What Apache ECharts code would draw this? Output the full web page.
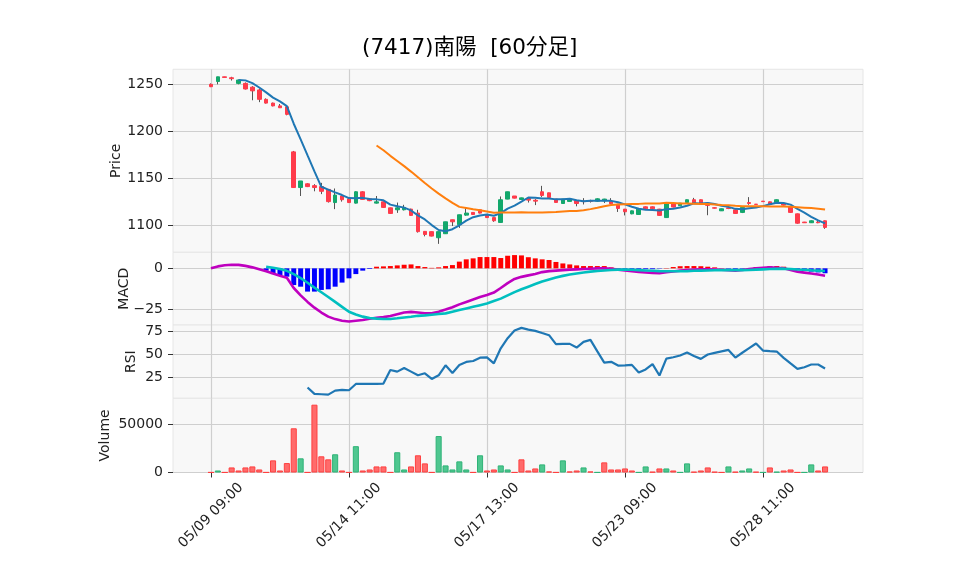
<!DOCTYPE html>
<html><head><meta charset="utf-8">
<script src="https://cdn.jsdelivr.net/npm/echarts@6/dist/echarts.min.js"></script>
<style>html,body{margin:0;padding:0;background:#fff}#c{width:958px;height:575px}</style>
</head><body><div id="c"></div>
<script>
const days = ['05/09','05/10','05/13','05/14','05/15','05/16','05/17','05/20','05/21','05/22','05/23','05/24','05/27','05/28','05/29'];
const hours = ['09:00','10:00','11:00','12:00','13:00','14:00'];
const xTickLabels = ['05/09 09:00','05/14 11:00','05/17 13:00','05/23 09:00','05/28 11:00'];

const opens = [1250,1253,1258,1257,1251,1251,1247,1244,1234,1230,
1227,1226,1178,1140,1144,1142,1141,1138,1124,1131,
1128,1123.4,1135.5,1128,1123.4,1124.8,1118.4,1116.3,1116.3,1117,
1112.8,1093.3,1093,1086.5,1090.8,1105.7,1100.4,1110.6,1113.5,1116.3,
1111,1108,1102.8,1127.7,1131,1127.3,1128.4,1126.5,1135.5,1134.4,
1127.7,1123,1125.2,1126.2,1125.5,1125.6,1125.5,1125.9,1125.5,1122.3,
1117,1112,1111.3,1119.5,1119.5,1117,1108,1123,1120.6,1124,
1127,1127,1123.4,1118.5,1115.2,1118.4,1116.3,1113.5,1124,1122.3,
1125.5,1124.8,1124,1123,1119.9,1112,1103.2,1102.5,1103.2,1104.6];
const highs = [1251,1258,1258,1258,1255,1252,1248,1245.4,1235,1230.5,
1229,1226,1179,1147,1144.5,1143.6,1145,1138,1139,1131.5,
1128,1136,1136,1128,1131,1125,1118.5,1124,1121.6,1117.5,
1116.3,1093.3,1093,1093,1103.5,1105.7,1111,1118,1113.5,1116.3,
1111,1108,1130.5,1135.5,1131,1129.2,1128.5,1127.7,1141.8,1134.5,
1128,1127.7,1127.8,1126.5,1128.7,1127,1128.5,1128,1128.7,1122.5,
1117.2,1115.5,1117.2,1119.8,1119.8,1117.3,1123.2,1123.2,1123.5,1127.2,
1129,1127.2,1123.6,1118.8,1117.6,1118.6,1116.5,1119,1129.8,1122.5,
1125.7,1125,1127.2,1123.2,1120,1112.2,1103.4,1105,1104.6,1104.8];
const lows = [1247,1250,1257,1254,1250,1244.5,1233,1231,1229.5,1226.5,
1225,1217,1139.5,1131,1140.5,1136,1133,1124,1117,1125,
1123.5,1123,1127,1125.5,1123,1118.5,1112,1113,1115.6,1110,
1092,1088,1088,1080,1090.5,1099,1097,1110,1111,1112.5,
1107.5,1103.5,1102.5,1127.5,1128.5,1127,1124,1121.3,1130,1129,
1124,1122.8,1125,1120,1122,1124,1125,1123.5,1122.5,1114,
1110.3,1111.5,1111,1117.2,1117.2,1110,1108,1119,1120.4,1123.8,
1123.2,1122.5,1110.5,1117.8,1115,1117,1112.2,1112.8,1121.6,1121.8,
1124.8,1121.8,1123.8,1121,1113,1101.5,1102.3,1102.3,1102,1096];
const closes = [1247.5,1258,1257.3,1256,1254.6,1245,1243,1234,1230,1227,
1225,1218,1140,1147,1141,1140,1136,1125,1132,1127,
1124,1135.5,1127.3,1126,1124.8,1118.8,1112.4,1118.4,1118.8,1110.3,
1093,1090,1088.3,1093,1103.5,1103.5,1111,1112.8,1111.3,1112.8,
1108,1104.6,1127,1135.5,1128.7,1129,1126.6,1125.5,1131.6,1129.4,
1124.1,1127.7,1127.7,1123,1125,1125.4,1128,1127.7,1122.7,1117.7,
1114.2,1115.2,1117,1117.4,1117.4,1110.3,1123,1119.2,1123.4,1127,
1123.4,1122.7,1121,1118,1117.4,1117.7,1112.4,1118.8,1123,1122,
1125,1122,1127,1121.3,1113.5,1102,1102.5,1104.6,1102.5,1097.5];

const ma5 = [null,null,null,null,1254.6,1254.2,1251.2,1246.6,1241.4,1235.8,
1231.8,1226.8,1208,1191.4,1174.2,1157.2,1140.8,1137.8,1134.8,1132,
1128.8,1128.6,1129,1127.8,1127.4,1126.4,1121.8,1120,1118.6,1115.6,
1110.4,1106,1100,1094.8,1093.5,1095.6,1099.8,1104.8,1108.4,1110.3,
1111.2,1109.9,1112.7,1117.6,1120.8,1125,1129.4,1129.1,1128.3,1128.4,
1127.4,1127.6,1128.1,1126.4,1125.5,1125.8,1125.8,1125.8,1125.8,1124.3,
1122.1,1119.5,1117.4,1116.3,1116.2,1115.5,1117,1117.5,1118.7,1120.6,
1123.2,1123.1,1123.5,1122.4,1120.5,1119.4,1117.3,1116.9,1117.9,1118.8,
1120.2,1122.2,1123.8,1123.5,1121.8,1117.2,1113.3,1108.8,1105,1101.8];
const ma25 = [null,null,null,null,null,null,null,null,null,null,
null,null,null,null,null,null,null,null,null,null,
null,null,null,null,1184.8,1179.7,1173.8,1168.3,1162.8,1157,
1150.9,1144.8,1139,1133.5,1128.5,1123.7,1119.4,1118.3,1116.9,1115.8,
1114.5,1113.2,1113.3,1113.4,1113.5,1113.7,1113.4,1113.3,1113.5,1113.7,
1113.9,1114.5,1114.9,1115.1,1115.7,1117,1118.5,1120.1,1121.3,1121.9,
1122.3,1122.5,1122.6,1122.9,1123,1123.1,1123.9,1123.6,1123.1,1123,
1122.8,1122.6,1122.4,1121.9,1121.4,1121.2,1120.6,1120.2,1120.2,1120.1,
1120.1,1119.8,1119.8,1119.7,1119.6,1119.1,1118.6,1118.1,1117.5,1116.7];

const macdLine = [0,1.2,1.9,2.2,2.1,1.5,0.6,-0.6,-1.8,-3.2,
-4.5,-5.8,-12,-16.5,-20.5,-24,-27,-29.5,-31,-32,
-32.5,-32,-31.5,-30.8,-30.2,-29.8,-29.1,-28,-27,-26.6,
-27,-27.4,-27.4,-26.5,-25.2,-23.8,-22,-20.5,-19,-17.5,
-16.3,-14.8,-12,-9,-6.5,-5.2,-4.3,-3.5,-2.3,-1.7,
-1.4,-1.1,-0.8,-0.6,-0.4,-0.2,0,0,-0.3,-0.8,
-1.3,-1.8,-2.2,-2.5,-2.8,-3,-2.4,-1.9,-1.4,-1,
-0.7,-0.6,-0.6,-0.7,-0.9,-1.2,-1.4,-1,-0.5,0,
0.4,0.6,0.4,0,-1,-2,-2.6,-3.2,-3.8,-4.5];
const signalLine = [null,null,null,null,null,null,null,null,1,0.4,
-0.4,-1.5,-3.5,-6,-8.8,-11.8,-14.6,-17.5,-20.5,-23.5,
-26.5,-28.2,-29.5,-30.3,-30.7,-30.9,-30.9,-30.5,-30,-29.6,
-29,-28.7,-28.3,-27.9,-27.5,-26.5,-25.5,-24.5,-23.5,-22.5,
-21.5,-20,-18.5,-16.5,-14.5,-12.8,-11.2,-9.6,-8,-6.8,
-5.6,-4.6,-3.8,-3.1,-2.5,-2,-1.6,-1.3,-1,-0.8,
-0.8,-0.9,-1.1,-1.3,-1.5,-1.7,-1.8,-1.8,-1.8,-1.7,
-1.5,-1.4,-1.3,-1.2,-1.1,-1.1,-1.1,-1.1,-1,-0.8,
-0.6,-0.4,-0.3,-0.2,-0.4,-0.7,-0.9,-1.2,-1.4,-1.6];
const macdHist = [null,null,null,null,null,null,null,null,-1.4,-3.5,
-4.1,-5.1,-10.2,-11.2,-14.2,-14.2,-13.2,-12.8,-11.2,-8.7,
-6.1,-3.5,-1.4,-0.4,1,1.2,1.4,1.8,2.2,2.4,
1.4,0.8,0.3,0.6,1.4,2,4.1,5.5,6.1,6.9,
6.9,6.9,6.3,7.7,8.1,7.9,6.8,6.1,5.5,5.1,
3.9,3,2.4,1.8,1.4,1.4,1.4,1.4,0.6,-0.4,
-0.5,-0.6,-0.6,-0.5,-0.5,-0.2,0.2,0.8,1.3,1.4,
1.4,1.3,1,0.6,0.2,-0.3,-0.5,-0.3,0.2,0.8,
0.6,1.3,1.4,1,0.2,-0.8,-1.5,-2,-2.5,-3];

const rsi = [null,null,null,null,null,null,null,null,null,null,
null,null,null,null,14,7.1,6.7,6.3,10.6,11.4,
11,17.8,17.8,17.8,17.8,18.2,32.9,31.1,35,31.1,
27.2,29.3,23.2,27.2,38,29.7,38.3,41.6,42.6,46.2,
46.6,40.1,56.3,67.3,75.6,78.4,76.5,75.2,72.8,70.5,
60.8,61.1,61.1,57.1,63.3,65.4,53,40.9,41.7,37.7,
37.9,38.4,30.1,33.5,39.2,26.9,45.2,46.7,48.5,51.7,
48,44.9,49.6,51.4,53,54.6,46.3,51.5,56.5,61.5,
53.9,53.3,52.8,46,40,34.1,35.9,38.8,38.8,34.5];

const volume = [150,2100,150,5240,2100,5240,6290,3140,150,12580,
2100,9780,45760,14670,150,70200,16770,13620,18860,2100,
150,27250,2100,3140,6290,6290,150,20960,3140,6290,
17820,9430,150,37730,7340,3140,11530,3140,150,17820,
2100,3140,7340,3140,150,13620,2100,4190,8380,1050,
150,12580,1050,2100,5240,1050,150,10480,3140,3140,
4190,2100,150,6290,700,4190,4190,2100,150,9430,
700,2100,5240,700,150,6290,700,2100,4190,700,
150,5240,700,2100,3140,150,150,8380,2100,6290];
const volUp = [0,1,0,0,0,0,0,0,0,0,
0,0,0,1,0,0,0,0,1,0,
0,1,0,0,0,0,0,1,1,0,
0,0,0,1,1,1,1,1,0,1,
0,0,1,1,0,0,0,0,1,0,
0,1,0,0,1,0,1,0,0,0,
0,0,1,1,0,0,1,0,1,1,
0,0,0,0,0,1,0,1,1,0,
1,0,1,0,0,0,1,1,0,0];

const priceTicks = [1100,1150,1200,1250];
const macdTicks = [-25,0];
const rsiTicks = [25,50,75];
const volTicks = [0,50000];

const PAD = 5;
const FONT = "'DejaVu Sans','Noto Sans CJK JP',sans-serif";
const UP = '#13a86c', DOWN = '#ff3b4b';

const labels = [];
days.forEach(d => hours.forEach(h => labels.push(d + ' ' + h)));
const cats = [];
for (let i = 0; i < PAD; i++) cats.push('L' + i);
labels.forEach(l => cats.push(l));
for (let i = 0; i < PAD; i++) cats.push('R' + i);
const pad = (arr, e) => Array(PAD).fill(e).concat(arr, Array(PAD).fill(e));

const wickData = pad(opens.map((o, i) => [o, closes[i], lows[i], highs[i]]), '-');
const bodyData = pad(opens.map((o, i) => [o, closes[i], Math.min(o, closes[i]), Math.max(o, closes[i])]), '-');
const volData = pad(volume.map((v, i) => ({
  value: v,
  itemStyle: volUp[i] ? {color: '#4fc790', borderColor: '#2fb377'} : {color: '#ff6b6b', borderColor: '#ff4040'}
})), null);

const isTick = (idx, val) => xTickLabels.indexOf(val) >= 0;
const vLines = {
  silent: true, z: 1, animation: false, symbol: ['none', 'none'],
  label: {show: false},
  lineStyle: {color: '#cfcfcf', width: 1.2, type: 'solid'},
  emphasis: {disabled: true},
  data: xTickLabels.map(l => ({xAxis: l}))
};

const L = 173, R = 95;
const tops = [69.3, 252.3, 325, 398.3];
const heights = [183, 72.7, 73.3, 74.2];
const grids = tops.map((t, i) => ({
  left: L, right: R, top: t, height: heights[i], show: true,
  backgroundColor: '#f8f8f8', borderColor: '#e6e6e6', borderWidth: 1,
  containLabel: false, outerBoundsMode: 'none'
}));

const xAxes = [0, 1, 2, 3].map(g => ({
  gridIndex: g, type: 'category', data: cats, boundaryGap: true,
  axisLine: {show: false},
  axisTick: {show: g === 3, alignWithLabel: true, interval: isTick, length: 5, lineStyle: {color: '#333'}},
  axisLabel: {show: g === 3, interval: isTick, formatter: v => (xTickLabels.indexOf(v) >= 0 ? v : ''),
    rotate: 45, align: 'center', verticalAlign: 'middle', margin: 43, fontSize: 14, color: '#222', fontFamily: FONT},
  splitLine: {show: false}
}));

const minus = v => (v < 0 ? '\u2212' + Math.abs(v) : String(v));
function yAx(g, name, min, max, ticks, gap) {
  return {
    gridIndex: g, type: 'value', min: min, max: max,
    axisLine: {show: false},
    axisTick: {show: true, length: 5, customValues: ticks, lineStyle: {color: '#333'}},
    axisLabel: {customValues: ticks, margin: 10, fontSize: 14, color: '#222', fontFamily: FONT, formatter: minus},
    splitLine: {show: true, lineStyle: {color: '#cfcfcf', width: 1.2}},
    name: name, nameLocation: 'middle', nameGap: gap, nameRotate: 90, nameMoveOverlap: false,
    nameTextStyle: {fontSize: 14, color: '#222', fontFamily: FONT}
  };
}

const chart = echarts.init(document.getElementById('c'), null, {renderer: 'canvas'});
chart.setOption({
  animation: false,
  backgroundColor: '#ffffff',
  title: {text: '(7417)南陽  [60分足]', left: 357, top: 33,
    textStyle: {fontSize: 21.5, fontWeight: 'normal', color: '#000', fontFamily: FONT}},
  grid: grids,
  xAxis: xAxes,
  yAxis: [
    yAx(0, 'Price', 1071, 1266, priceTicks, 50),
    yAx(1, 'MACD', -34.6, 9.8, macdTicks, 42),
    yAx(2, 'RSI', 2.3, 81.5, rsiTicks, 35),
    yAx(3, 'Volume', 0, 76800, volTicks, 61)
  ],
  series: [
    {type: 'candlestick', name: 'wick', xAxisIndex: 0, yAxisIndex: 0, data: wickData, barWidth: 1, z: 2,
      itemStyle: {color: '#555', color0: '#555', borderColor: '#555', borderColor0: '#555', borderWidth: 1},
      markLine: vLines},
    {type: 'candlestick', name: 'body', xAxisIndex: 0, yAxisIndex: 0, data: bodyData, barWidth: '60%', z: 3,
      itemStyle: {color: UP, color0: DOWN, borderColor: UP, borderColor0: DOWN, borderWidth: 1}},
    {type: 'line', name: 'MA5', xAxisIndex: 0, yAxisIndex: 0, data: pad(ma5, null), showSymbol: false, z: 4,
      lineStyle: {color: '#1f77b4', width: 2}, itemStyle: {color: '#1f77b4'}},
    {type: 'line', name: 'MA25', xAxisIndex: 0, yAxisIndex: 0, data: pad(ma25, null), showSymbol: false, z: 4,
      lineStyle: {color: '#ff7f0e', width: 2}, itemStyle: {color: '#ff7f0e'}},
    {type: 'bar', name: 'Hist', xAxisIndex: 1, yAxisIndex: 1, data: pad(macdHist, null), barWidth: '72%', z: 2,
      itemStyle: {color: p => (p.value >= 0 ? '#ff0000' : '#0000ff')}, markLine: vLines},
    {type: 'line', name: 'MACD', xAxisIndex: 1, yAxisIndex: 1, data: pad(macdLine, null), showSymbol: false, z: 4,
      lineStyle: {color: '#bf00bf', width: 2.6}, itemStyle: {color: '#bf00bf'}},
    {type: 'line', name: 'Signal', xAxisIndex: 1, yAxisIndex: 1, data: pad(signalLine, null), showSymbol: false, z: 4,
      lineStyle: {color: '#00bfbf', width: 2.6}, itemStyle: {color: '#00bfbf'}},
    {type: 'line', name: 'RSI', xAxisIndex: 2, yAxisIndex: 2, data: pad(rsi, null), showSymbol: false, z: 4,
      lineStyle: {color: '#1f77b4', width: 2.2}, itemStyle: {color: '#1f77b4'}, markLine: vLines},
    {type: 'bar', name: 'Volume', xAxisIndex: 3, yAxisIndex: 3, data: volData, barWidth: '88%', z: 2,
      itemStyle: {borderWidth: 1}, markLine: vLines}
  ]
});
</script></body></html>
